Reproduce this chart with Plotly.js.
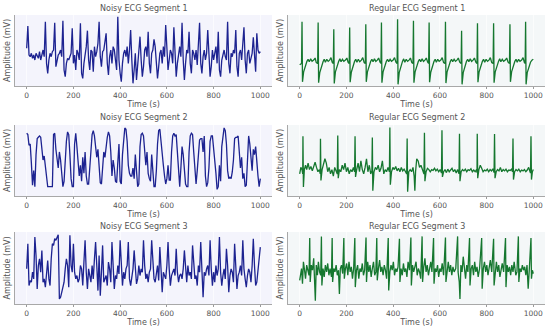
<!DOCTYPE html>
<html>
<head>
<meta charset="utf-8">
<script src="https://cdn.plot.ly/plotly-3.0.1.min.js"></script>
<style>html,body{margin:0;padding:0;background:#fff;}#chart{width:550px;height:329px;}</style>
</head>
<body>
<div id="chart"></div>
<script>
// ---- Data ----
const noisyTitles = ["Noisy ECG Segment 1", "Noisy ECG Segment 2", "Noisy ECG Segment 3"];
const regularTitles = ["Regular ECG Segment 1", "Regular ECG Segment 2", "Regular ECG Segment 3"];
const timeStart = 0;
const timeStep = 5;
const xTickVals = [0, 200, 400, 600, 800, 1000];
const xTickText = ["0", "200", "400", "600", "800", "1000"];

const noisy1 = [
 0.15, 0.82, -0.05, -0.1, 0.0, -0.15, -0.05, -0.2, 0.0, -0.1,
 -0.15, 0.05, -0.2, -0.05, 0.1, -0.1, 0.95, -0.3, -0.6, -0.2,
 0.0, -0.1, 0.05, 0.1, 0.92, -0.4, -0.2, -0.05, 0.0, 0.1,
 -0.1, 0.98, -0.5, -0.7, -0.3, -0.15, -0.2, -0.1, 0.0, 0.75,
 -0.3, -0.05, -0.5, 0.1, 0.0, -0.2, 0.9, -0.6, -0.75, -0.3,
 -0.1, 0.2, 0.68, -0.2, -0.5, 0.1, 0.05, -0.55, 0.2, -0.1,
 0.05, 0.3, 0.95, -0.1, -0.4, 0.05, 0.1, 0.3, 0.6, -0.3,
 -0.65, -0.1, 0.1, -0.3, 0.2, 0.1, -0.2, -0.5, 1.1, -0.2,
 -0.6, -0.85, -0.3, 0.0, 0.1, -0.1, 0.2, -0.3, 0.1, 0.7,
 -0.2, -0.9, -0.5, 0.0, -0.8, -0.3, 0.1, 0.5, -0.2, -0.7,
 -0.4, 0.1, 0.2, -0.1, 0.65, -0.3, -0.6, 0.0, 0.1, 0.42,
 0.2, -0.2, -0.75, -0.4, 0.0, 0.1, -0.3, 0.2, -0.1, 0.85,
 -0.1, -0.5, -0.2, 0.1, 0.0, -0.3, 0.78, -0.2, -0.7, -0.3,
 0.0, 0.2, -0.1, 0.92, -0.2, -0.8, -0.3, 0.1, 0.0, 0.65,
 -0.3, -0.6, 0.1, 0.0, -0.2, 0.1, -0.35, 0.2, 0.92, -0.3,
 -0.6, -0.1, 0.1, -0.2, 0.0, 0.7, -0.1, -0.7, -0.4, 0.1,
 -0.2, 0.0, 0.2, -0.3, 0.65, -0.5, -0.7, -0.2, 0.0, 0.1,
 -0.1, -0.2, 0.95, -0.3, -0.6, 0.0, -0.1, 0.1, 0.0, 0.7,
 -0.4, -0.7, 0.0, 0.1, -0.2, 0.2, 0.78, -0.2, -0.6, 0.0,
 0.1, -0.3, -0.1, 0.0, 0.48, -0.1, -0.55, 0.6, 0.1, 0.0,
 0.05
];

const noisy2 = [
 1.0, 0.95, 0.55, 0.6, -0.1, -0.95, -0.4, -1.0, 0.2, 0.8,
 0.85, 0.9, 0.85, 0.3, 0.0, 0.15, -0.2, -0.6, -1.0, -1.0,
 -1.0, -1.0, -1.0, 0.95, 1.0, 0.4, -0.1, -0.3, 0.3, 0.0,
 -0.5, -1.0, -0.8, 0.2, 0.7, 1.05, 0.95, 0.2, -0.7, -1.0,
 -1.0, 0.6, 1.0, 0.5, 0.0, -0.6, -0.2, -0.8, 0.1, -0.5,
 0.3, -0.6, -0.9, -0.9, -0.3, 0.6, 0.95, 1.1, 0.9, 0.5,
 0.1, 0.4, -0.3, -0.85, -0.9, -0.2, 0.3, 0.1, 0.6, 0.85,
 1.05, 0.9, 0.3, -0.6, 0.0, -0.3, -0.8, -0.85, -0.1, 0.6,
 -0.8, -0.9, 0.2, 0.8, 1.2, 1.15, 0.7, -0.2, -0.5, -0.6,
 -0.6, -0.3, -0.7, 0.2, -0.5, -1.0, -0.9, 0.5, 0.95, 1.0,
 0.9, 0.4, -0.2, 0.3, -0.5, -0.7, -0.8, 0.2, -0.3, -1.0,
 -1.0, -0.4, 0.6, 1.1, 1.15, 0.6, 0.1, -0.2, -0.6, -0.9,
 -0.7, -0.2, -0.75, -0.75, 0.3, 0.9, 1.0, 0.9, 0.95, 0.2,
 -0.3, -1.0, -0.3, 0.5, 0.2, -0.6, -0.9, -1.0, -1.0, 0.3,
 0.9, 1.0, 0.95, 0.3, -0.2, -0.9, -0.4, 0.2, 0.75, 0.8,
 0.8, 0.3, 0.9, -0.6, -1.0, -0.85, -0.3, 0.7, 0.9, 0.9,
 0.5, 0.0, -0.5, -1.1, -1.0, -0.2, -0.8, 0.5, 0.9, 1.2,
 1.1, 0.6, -0.4, -0.7, -0.65, -0.7, -0.45, 0.0, 0.8, 0.85,
 0.85, 0.9, 0.3, -0.3, 0.1, -0.7, -0.5, -1.0, -0.95, 0.4,
 0.9, 0.6, 0.2, -0.4, 0.4, 0.2, 0.5, -0.3, -0.6, -1.0,
 -0.7
];

const noisy3 = [
 0.2, 0.95, -0.3, -0.15, -0.2, 0.1, -0.1, 1.15, 0.6, -0.4,
 0.3, 0.5, 0.1, 0.75, -0.2, -0.1, -0.35, 0.2, 0.45, -0.1,
 -0.3, 0.5, 0.95, 0.9, 1.1, 1.05, 1.15, 1.22, -0.7, -0.65,
 -0.5, -0.3, -0.2, 0.2, 0.5, 0.3, -0.35, 1.2, 0.3, 0.1,
 0.95, 0.1, -0.1, 0.0, -0.2, -0.1, 0.3, 0.2, -0.3, 0.4,
 1.05, 0.1, -0.4, 0.2, 0.0, -0.2, 0.3, -0.1, 0.5, 1.0,
 0.3, -0.45, 0.6, -0.6, 0.1, 0.9, -0.2, -0.1, 0.0, -0.3,
 0.4, 0.2, -0.2, 1.0, 0.3, -0.4, 0.0, -0.1, 0.3, 0.05,
 1.05, 0.2, -0.3, 0.1, -0.1, 0.2, 0.3, 1.0, -0.1, -0.3,
 0.0, 0.2, 0.75, 0.1, -0.25, -0.1, 0.3, 0.0, 0.2, 0.1,
 1.05, 0.3, -0.1, 0.05, -0.2, 0.1, 0.2, 1.05, 0.3, -0.1,
 -0.2, 0.0, 0.3, -0.15, 0.85, 0.2, -0.5, 0.1, 0.0, -0.1,
 0.3, 1.0, 0.2, -0.3, 0.0, 0.1, 0.2, 0.0, 0.8, 0.1,
 -0.2, 0.0, 0.05, -0.1, 0.2, 0.75, 0.1, -0.2, 0.3, 0.0,
 0.1, -0.1, 0.9, 0.2, -0.1, 0.0, -0.3, 0.3, 0.1, 1.0,
 0.2, -0.65, 0.1, 0.0, 0.2, 0.3, 0.0, 1.05, 0.2, -0.3,
 0.1, -0.2, 0.3, 0.0, 0.2, 1.15, 0.1, -0.3, 0.0, 0.2,
 -0.1, 0.8, 0.3, -0.5, 0.0, 0.2, 0.1, -0.2, 0.95, 0.2,
 -0.4, 0.0, 0.1, 0.3, 0.0, 1.05, 0.2, -0.1, -0.35, 0.0,
 0.2, 0.1, -0.2, 0.3, 1.1, 0.3, -0.3, -0.2, 0.1, 0.5,
 0.85
];

// [time, amplitude] pairs
const regular1 = [
 [0,-0.03],[8,0.0],[10,1.0],[12,-0.44],[17,-0.2],[24,-0.05],[31,0.05],[36,0.1],[41,0.04],[47,0.11],[53,0.05],[60,0.08],[66,0.13],[71,0.02],[77,0.0],
 [79,0.98],[81,-0.46],[86,-0.22],[93,-0.06],[100,0.04],[105,0.1],[110,0.03],[116,0.1],[122,0.05],[128,0.08],[134,0.14],[139,0.03],[144,0.0],
 [146,0.82],[148,-0.48],[153,-0.2],[160,-0.05],[167,0.05],[172,0.11],[177,0.04],[183,0.1],[189,0.05],[196,0.08],[202,0.13],[207,0.03],[212,0.0],
 [214,0.86],[216,-0.45],[221,-0.21],[228,-0.05],[235,0.05],[240,0.1],[245,0.03],[251,0.1],[257,0.04],[264,0.08],[270,0.14],[276,0.02],[281,0.0],
 [283,0.94],[285,-0.44],[290,-0.2],[297,-0.06],[304,0.05],[309,0.1],[314,0.04],[320,0.11],[326,0.05],[332,0.08],[338,0.13],[344,0.03],[348,0.0],
 [350,0.98],[352,-0.46],[357,-0.2],[364,-0.05],[371,0.05],[376,0.1],[381,0.04],[387,0.1],[393,0.05],[400,0.08],[406,0.14],[412,0.03],[417,0.0],
 [419,1.06],[421,-0.5],[426,-0.22],[433,-0.06],[440,0.05],[445,0.11],[450,0.03],[456,0.1],[462,0.05],[468,0.08],[474,0.13],[480,0.02],[485,0.0],
 [487,1.02],[489,-0.46],[494,-0.2],[501,-0.05],[508,0.05],[513,0.1],[518,0.04],[524,0.11],[530,0.05],[536,0.08],[542,0.13],[548,0.03],[552,0.0],
 [554,0.98],[556,-0.45],[561,-0.21],[568,-0.05],[575,0.05],[580,0.1],[585,0.03],[591,0.1],[597,0.05],[604,0.08],[610,0.14],[616,0.02],[622,0.0],
 [624,1.0],[626,-0.47],[631,-0.2],[638,-0.05],[645,0.05],[650,0.1],[655,0.04],[661,0.1],[667,0.05],[673,0.08],[679,0.13],[685,0.03],[691,0.0],
 [693,0.78],[695,-0.5],[700,-0.22],[707,-0.06],[714,0.05],[719,0.1],[724,0.04],[730,0.11],[736,0.05],[742,0.08],[748,0.13],[754,0.03],[759,0.0],
 [761,0.96],[763,-0.45],[768,-0.2],[775,-0.05],[782,0.05],[787,0.1],[792,0.03],[798,0.1],[804,0.05],[810,0.08],[816,0.14],[822,0.02],[828,0.0],
 [830,0.96],[832,-0.46],[837,-0.2],[844,-0.05],[851,0.05],[856,0.11],[861,0.04],[867,0.1],[873,0.05],[880,0.08],[886,0.13],[892,0.03],[898,0.0],
 [900,0.94],[902,-0.44],[907,-0.2],[914,-0.05],[921,0.05],[926,0.1],[931,0.03],[937,0.1],[943,0.05],[950,0.08],[956,0.14],[962,0.02],[965,0.0],
 [967,1.0],[969,-0.5],[974,-0.22],[981,-0.06],[988,0.03],[994,0.08],[1000,0.1]
];

const regular2 = [
 [0,-0.05],[5,0.1],[10,0.05],[13,-0.05],[14,0.82],[16,-0.35],[20,0.05],[25,0.15],[30,0.05],[36,0.2],[42,0.05],[48,0.12],[54,0.02],[60,0.1],[66,0.22],[72,0.1],[78,0.0],[84,0.05],[88,-0.05],
 [89,0.76],[91,-0.2],[96,0.05],[102,0.15],[108,0.3],[114,0.2],[120,0.0],[126,0.1],[132,-0.05],[138,0.05],[144,-0.1],[150,0.1],[156,0.0],[161,-0.05],
 [163,0.84],[165,-0.15],[170,0.05],[176,0.0],[182,0.15],[188,0.05],[194,0.2],[200,0.0],[206,0.1],[212,-0.05],[218,0.05],[224,0.0],[230,0.1],[235,0.0],
 [237,0.82],[239,-0.12],[244,0.05],[250,0.2],[256,0.0],[262,0.25],[268,0.05],[274,-0.05],[280,0.1],[286,0.3],[292,0.0],[298,0.15],[304,-0.05],[309,0.02],
 [311,0.79],[313,-0.44],[318,0.0],[324,0.1],[330,0.05],[336,0.15],[342,0.0],[348,0.08],[354,0.25],[360,-0.05],[366,0.05],[372,0.0],[378,0.1],[384,0.0],
 [386,1.02],[388,-0.3],[393,0.0],[399,0.1],[405,0.05],[411,0.12],[417,0.02],[423,0.08],[429,0.0],[435,0.1],[441,0.02],[447,0.06],[453,0.0],[458,-0.05],
 [460,0.77],[462,-0.46],[467,0.0],[473,0.05],[479,0.0],[485,0.1],[490,-0.1],[493,-0.44],[496,0.0],[501,0.3],[507,0.25],[513,0.1],[519,0.15],[525,0.05],[530,0.0],[532,-0.05],
 [534,0.9],[536,-0.22],[541,0.0],[547,0.08],[553,0.05],[559,0.0],[565,0.05],[571,0.03],[577,0.08],[583,0.02],[589,0.06],[595,0.0],[601,0.05],[607,-0.03],
 [609,0.96],[611,-0.12],[616,0.0],[622,0.05],[628,-0.02],[634,0.06],[640,0.0],[646,0.04],[652,0.08],[658,0.0],[664,0.05],[670,-0.03],[676,0.05],[682,-0.05],
 [684,0.88],[686,-0.22],[691,0.0],[697,0.05],[703,0.02],[709,0.06],[715,0.0],[721,0.05],[727,0.03],[733,0.07],[739,0.0],[745,0.04],[751,0.0],[757,0.05],[759,-0.02],
 [760,0.88],[762,-0.15],[767,0.05],[773,0.15],[779,0.08],[785,0.0],[791,0.04],[797,0.02],[803,0.06],[809,0.0],[815,0.05],[821,0.02],[827,0.07],[832,-0.02],
 [834,0.87],[836,-0.15],[841,0.0],[847,0.05],[853,0.02],[859,0.1],[865,0.0],[871,0.05],[877,0.02],[883,0.06],[889,0.0],[895,0.04],[901,0.03],[907,0.06],[911,0.0],
 [913,0.77],[915,-0.18],[920,0.0],[926,0.05],[932,0.02],[938,0.06],[944,0.0],[950,0.04],[956,0.02],[962,0.05],[968,0.0],[974,0.04],[980,0.1],[986,0.0],[988,-0.03],
 [990,0.82],[992,-0.18],[996,0.0],[1000,0.05]
];

const regular3 = [
 [0,-0.25],[4,-0.1],[8,0.1],[12,-0.35],[16,0.3],[20,0.1],[25,-0.2],[30,0.2],[35,0.0],[40,-0.1],
 [43,1.0],[45,-0.3],[50,0.2],[55,0.05],[60,0.4],[64,-0.2],[67,-0.85],[71,0.2],[76,-0.1],[80,0.3],[85,0.0],[90,-0.1],
 [93,1.05],[95,-0.4],[100,0.1],[105,-0.15],[110,0.2],[115,0.0],[120,0.25],[125,-0.1],[130,0.1],[136,-0.15],
 [139,1.0],[141,-0.3],[146,0.1],[151,0.0],[156,0.2],[161,-0.1],[166,0.05],[170,-0.65],[174,0.1],[179,0.2],[184,-0.05],
 [189,1.0],[191,-0.2],[196,0.1],[201,0.25],[206,-0.1],[211,0.3],[216,0.0],[221,0.15],[226,-0.2],[231,0.1],
 [236,1.0],[238,-0.45],[243,0.05],[248,0.2],[253,-0.2],[258,0.1],[263,0.0],[268,0.25],[273,-0.1],[278,0.05],
 [284,1.02],[286,-0.3],[291,0.3],[296,0.0],[301,0.2],[306,-0.15],[311,0.1],[316,0.3],[321,-0.1],[326,0.0],
 [330,1.0],[332,-0.25],[337,0.1],[342,0.35],[347,0.0],[352,0.15],[357,-0.1],[362,0.2],[367,0.05],[372,-0.2],
 [379,1.0],[381,-0.55],[386,0.0],[391,0.2],[396,0.05],[401,0.3],[406,-0.1],[411,0.1],[416,0.0],[421,0.15],
 [427,0.98],[429,-0.3],[434,0.1],[439,-0.1],[444,0.25],[449,0.0],[454,0.1],[459,-0.15],[464,0.3],[470,0.05],
 [476,1.02],[478,-0.4],[483,0.2],[488,0.0],[493,0.15],[498,0.3],[503,-0.1],[508,0.1],[513,0.0],[518,-0.2],
 [524,1.05],[526,-0.3],[531,0.15],[536,0.4],[541,0.0],[546,0.2],[551,-0.1],[556,0.1],[561,0.3],[566,0.0],
 [573,1.0],[575,-0.35],[580,0.1],[585,0.0],[590,0.2],[595,-0.15],[600,0.1],[605,0.0],[610,0.25],[616,-0.1],
 [624,1.02],[626,-0.3],[631,0.1],[636,0.3],[641,0.0],[646,0.2],[651,-0.1],[656,0.15],[661,0.0],[668,0.1],
 [676,1.05],[678,0.0],[683,-0.3],[686,-0.8],[690,0.2],[695,0.0],[700,0.45],[705,0.1],[710,-0.2],[715,0.2],[720,0.0],
 [727,1.0],[729,-0.4],[734,0.1],[739,0.2],[744,-0.1],[749,0.3],[754,0.0],[759,0.15],[764,-0.15],[770,0.1],
 [779,1.0],[781,-0.5],[786,0.1],[791,0.3],[796,0.0],[801,0.2],[806,-0.1],[811,0.1],[816,0.35],[822,0.0],
 [830,0.98],[832,-0.4],[837,0.1],[842,0.3],[847,0.0],[852,0.2],[857,-0.15],[862,0.1],[867,0.25],[873,0.0],
 [881,1.0],[883,-0.45],[888,0.2],[893,0.0],[898,0.15],[903,-0.1],[908,0.2],[913,0.0],[918,0.3],[925,-0.1],[930,0.0],
 [936,1.05],[938,-0.3],[943,0.1],[948,0.0],[953,0.2],[958,0.05],[963,0.15],[968,-0.1],[973,0.2],[978,-0.5],[983,0.1],
 [990,1.0],[992,-0.2],[996,0.05],[1000,-0.05]
];

// ---- Styling / layout ----
const noisyColor = '#1d2391';
const regularColor = '#15772f';
const noisyBg = '#f4f4fc';
const regularBg = '#f4f7f8';
const fontFam = '"DejaVu Sans", "Liberation Sans", sans-serif';
const textColor = '#555555';

const colDomains = [[15/550, 272/550], [288/550, 545/550]];
const rowDomains = [[1-86/329, 1-15/329], [1-196/329, 1-125/329], [1-304/329, 1-232/329]];
const titleY = [1-8/329, 1-117/329, 1-226/329];
const noisyRanges = [[-0.98, 1.15], [-1.35, 1.31], [-0.85, 1.3]];
const regularRanges = [[-0.54, 1.16], [-0.56, 1.08], [-0.95, 1.18]];

const noisySeries = [noisy1, noisy2, noisy3];
const regularSeries = [regular1, regular2, regular3];

const traces = [];
const layout = {
  width: 550, height: 329,
  margin: {l: 0, r: 0, t: 0, b: 0},
  paper_bgcolor: '#ffffff',
  plot_bgcolor: 'rgba(0,0,0,0)',
  showlegend: false,
  font: {family: fontFam, color: textColor, size: 8},
  annotations: [],
  shapes: []
};

function axisX(domain, anchor) {
  return {
    domain: domain, anchor: anchor, range: [-50, 1050],
    tickmode: 'array', tickvals: xTickVals, ticktext: xTickText,
    ticks: 'outside', ticklen: 2, tickcolor: '#9a9a9a', tickwidth: 1,
    tickfont: {size: 7.5, color: '#555', family: fontFam},
    showline: true, linecolor: '#a8a8a8', linewidth: 1,
    showgrid: true, gridcolor: 'rgba(255,255,255,0.6)', gridwidth: 1,
    zeroline: false, fixedrange: true,
    title: {text: 'Time (s)', font: {size: 8, color: '#555', family: fontFam}, standoff: 1}
  };
}
function axisY(domain, anchor, range) {
  return {
    domain: domain, anchor: anchor, range: range,
    showticklabels: false, ticks: '',
    showline: true, linecolor: '#a8a8a8', linewidth: 1,
    showgrid: false, zeroline: false, fixedrange: true,
    title: {text: 'Amplitude (mV)', font: {size: 8, color: '#555', family: fontFam}, standoff: 2}
  };
}

for (let r = 0; r < 3; r++) {
  const nIdx = r * 2 + 1;
  const rIdx = r * 2 + 2;
  const nx = nIdx === 1 ? 'x' : 'x' + nIdx, ny = nIdx === 1 ? 'y' : 'y' + nIdx;
  const rx = 'x' + rIdx, ry = 'y' + rIdx;
  traces.push({
    type: 'scatter', mode: 'lines', x0: timeStart, dx: timeStep, y: noisySeries[r],
    xaxis: nx, yaxis: ny, line: {color: noisyColor, width: 1.3}, hoverinfo: 'skip'
  });
  traces.push({
    type: 'scatter', mode: 'lines',
    x: regularSeries[r].map(p => p[0]), y: regularSeries[r].map(p => p[1]),
    xaxis: rx, yaxis: ry, line: {color: regularColor, width: 1.3}, hoverinfo: 'skip'
  });
  layout[nIdx === 1 ? 'xaxis' : 'xaxis' + nIdx] = axisX(colDomains[0], ny);
  layout[nIdx === 1 ? 'yaxis' : 'yaxis' + nIdx] = axisY(rowDomains[r], nx, noisyRanges[r]);
  layout['xaxis' + rIdx] = axisX(colDomains[1], ry);
  layout['yaxis' + rIdx] = axisY(rowDomains[r], rx, regularRanges[r]);
  layout.annotations.push({
    text: noisyTitles[r], xref: 'paper', yref: 'paper',
    x: (colDomains[0][0] + colDomains[0][1]) / 2, y: titleY[r],
    xanchor: 'center', yanchor: 'middle', showarrow: false,
    font: {size: 8, color: textColor, family: fontFam}
  });
  layout.annotations.push({
    text: regularTitles[r], xref: 'paper', yref: 'paper',
    x: (colDomains[1][0] + colDomains[1][1]) / 2, y: titleY[r],
    xanchor: 'center', yanchor: 'middle', showarrow: false,
    font: {size: 8, color: textColor, family: fontFam}
  });
  layout.shapes.push({type: 'rect', layer: 'below', xref: nx + ' domain', yref: ny + ' domain', x0: 0, x1: 1, y0: 0, y1: 1, fillcolor: noisyBg, line: {width: 0}});
  layout.shapes.push({type: 'rect', layer: 'below', xref: rx + ' domain', yref: ry + ' domain', x0: 0, x1: 1, y0: 0, y1: 1, fillcolor: regularBg, line: {width: 0}});
}

Plotly.newPlot('chart', traces, layout, {staticPlot: true, displayModeBar: false});
</script>
</body>
</html>
